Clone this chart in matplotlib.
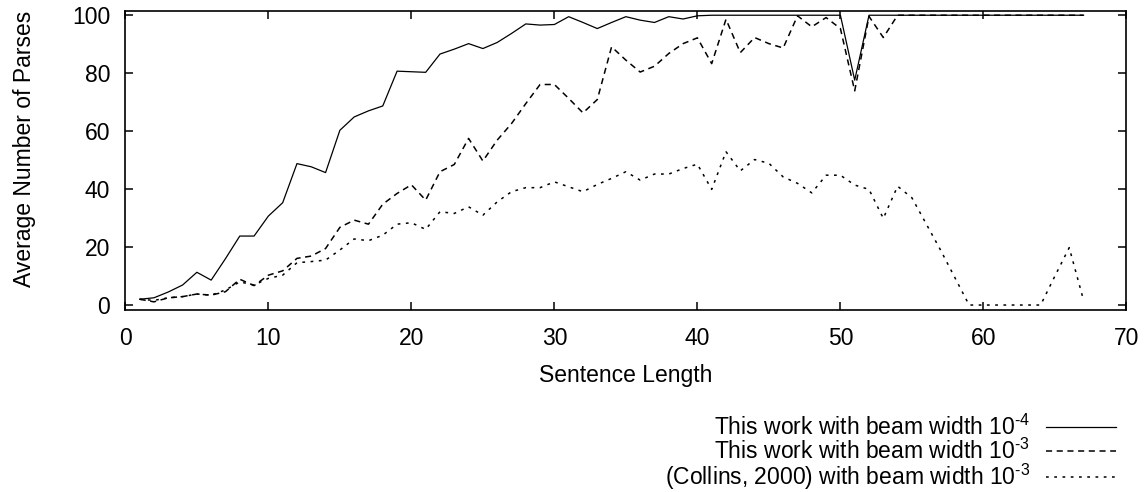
#!/usr/bin/python3

import numpy as np
import matplotlib
matplotlib.use('Agg')
import matplotlib.pyplot as plt

plt.rcParams['font.family'] = ['Liberation Sans', 'DejaVu Sans']
plt.rcParams['mathtext.fontset'] = 'custom'
plt.rcParams['mathtext.rm'] = 'Liberation Sans'
plt.rcParams['mathtext.default'] = 'regular'

# sentence lengths 1..67
sentence_length = np.arange(1, 68)

# this work, beam width 1e-4 (solid)
beam_1e4 = [2.0, 2.5, 4.5, 6.9, 11.3, 8.6, 16.0, 23.8, 23.8, 30.7,
            35.3, 48.8, 47.7, 45.7, 60.3, 64.9, 67.0, 68.7, 80.7, 80.5,
            80.3, 86.6, 88.3, 90.2, 88.5, 90.6, 93.7, 97.0, 96.6, 96.8,
            99.5, 97.5, 95.4, 97.5, 99.5, 98.3, 97.5, 99.5, 98.7, 99.8,
            100, 100, 100, 100, 100, 100, 100, 100, 100, 100,
            77.6, 100, 100, 100, 100, 100, 100, 100, 100, 100,
            100, 100, 100, 100, 100, 100, 100]

# this work, beam width 1e-3 (dashed)
beam_1e3 = [2.0, 1.1, 2.5, 2.9, 3.8, 3.4, 4.6, 8.9, 6.7, 10.3,
            11.8, 16.1, 16.9, 19.5, 26.8, 29.3, 27.9, 34.8, 38.5, 41.5,
            36.2, 46.0, 48.5, 57.5, 49.7, 56.9, 62.6, 69.5, 76.1, 76.1,
            71.3, 66.3, 70.9, 89.1, 84.5, 80.4, 82.4, 86.8, 90.2, 92.2,
            83.3, 98.6, 87.1, 92.3, 90.2, 88.7, 99.8, 96.0, 99.2, 95.4,
            73.9, 99.6, 92.3, 100, 100, 100, 100, 100, 100, 100,
            100, 100, 100, 100, 100, 100, 100]

# Collins (2000), beam width 1e-3 (dotted)
collins_1e3 = [2.0, 1.6, 2.5, 2.9, 3.8, 3.4, 5.2, 8.0, 6.9, 9.2,
               10.3, 14.6, 15.0, 15.5, 19.0, 22.8, 22.2, 24.1, 27.9, 28.4,
               26.1, 32.2, 31.6, 33.9, 31.0, 35.6, 39.1, 40.5, 40.5, 42.5,
               40.8, 39.1, 41.6, 43.7, 46.0, 43.1, 45.2, 45.2, 47.1, 48.6,
               39.9, 52.9, 46.3, 50.2, 48.9, 44.2, 42.0, 38.7, 44.8, 44.8,
               41.4, 39.9, 29.9, 41.0, 37.0, 28.0, 19.0, 9.5, 0, 0,
               0, 0, 0, 0, 10.0, 19.8, 1.7]

# superscripts use a plain hyphen like the original key
labels = [r'This work with beam width $10^{\text{-4}}$',
          r'This work with beam width $10^{\text{-3}}$',
          r'(Collins, 2000) with beam width $10^{\text{-3}}$']

fs = 16.5

fig = plt.figure(figsize=(11.48, 4.92), dpi=100)
ax = fig.add_axes([0.1092, 0.370, 0.872, 0.6067])

ax.plot(sentence_length, beam_1e4, color='black', lw=0.9, label=labels[0])
ax.plot(sentence_length, beam_1e3, color='black', lw=1.1,
        dashes=(4.0, 3.0), label=labels[1])
ax.plot(sentence_length, collins_1e3, color='black', lw=1.1,
        dashes=(1.8, 3.6), label=labels[2])

ax.set_xlim(0, 70)
ax.set_ylim(-1.7, 101.3)
ax.set_xticks(range(0, 71, 10))
ax.set_yticks(range(0, 101, 20))
ax.tick_params(direction='in', length=6, width=1.1, labelsize=fs,
               top=True, right=True)
ax.tick_params(axis='x', pad=12)
ax.tick_params(axis='y', pad=11)
for s in ax.spines.values():
    s.set_linewidth(1.2)

ax.set_xlabel('Sentence Length', fontsize=fs, labelpad=10)
ax.set_ylabel('Average Number of Parses', fontsize=fs)
ax.yaxis.set_label_coords(-0.089, 0.539)

# gnuplot style key: text right aligned, sample on the right
fig.legend(loc='upper right', bbox_to_anchor=(1116 / 1148, 1 - 415 / 492),
           frameon=False, markerfirst=False, fontsize=fs, handlelength=3.05,
           handletextpad=0.7, labelspacing=-0.08, borderpad=0,
           borderaxespad=0)

fig.savefig('out.png', dpi=100)
